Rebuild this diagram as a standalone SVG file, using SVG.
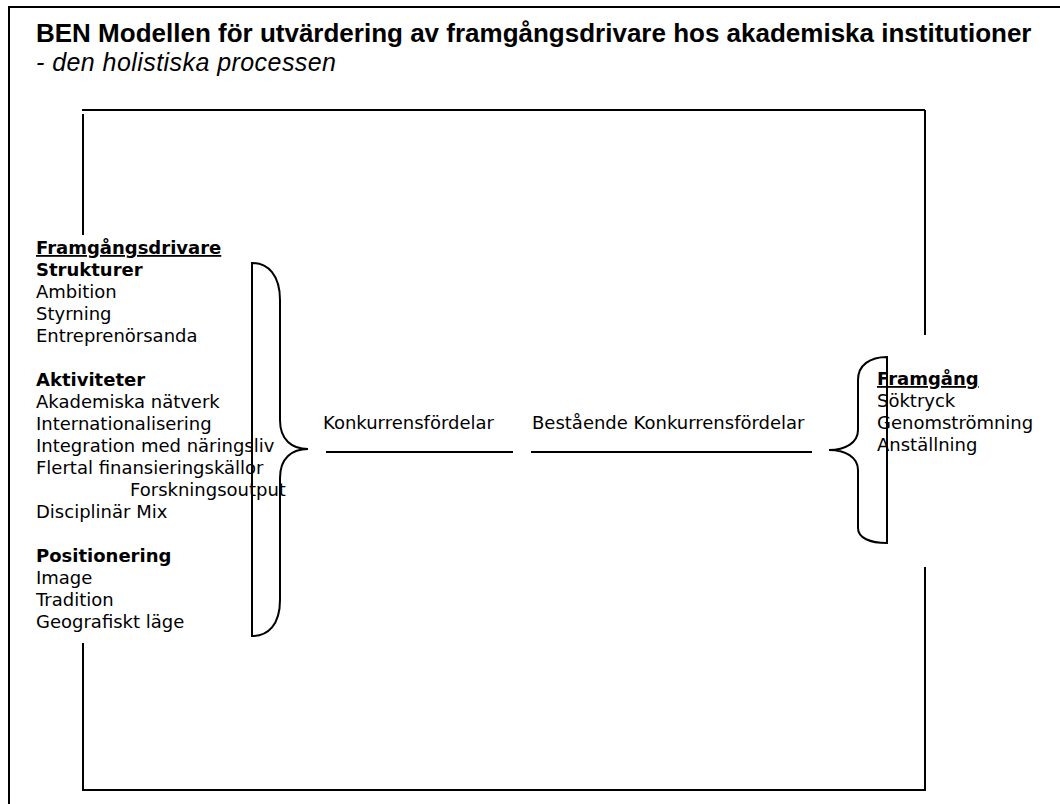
<svg xmlns="http://www.w3.org/2000/svg" width="1060" height="804" viewBox="0 0 1060 804">
<style>
.t{font-family:"DejaVu Sans",Verdana,sans-serif;font-size:18px;fill:#000}
.b{font-weight:bold}
.u{text-decoration:underline}
.ln{stroke:#000;stroke-width:2;fill:none}
.br{stroke:#000;stroke-width:2;fill:#fff}
</style>
<rect width="1060" height="804" fill="#fff"/>
<g id="frame">
<path class="ln" d="M9,804 V7 H1060" stroke-width="1.5"/>
</g>
<g id="title">
<text x="36" y="42" font-family="Liberation Sans,Arial,sans-serif" font-size="26" font-weight="bold">BEN Modellen för utvärdering av framgångsdrivare hos akademiska institutioner</text>
<text x="36" y="71" font-family="Liberation Sans,Arial,sans-serif" font-size="25" font-style="italic" textLength="300">- den holistiska processen</text>
</g>
<g id="connectors">
<path class="ln" d="M82,110 H925"/>
<path class="ln" d="M83,114 V235"/>
<path class="ln" d="M925,110 V335"/>
<path class="ln" d="M83,643 V790"/>
<path class="ln" d="M925,567 V790"/>
<path class="ln" d="M82,790 H926"/>
<path class="ln" d="M326,452 H513"/>
<path class="ln" d="M531,452 H812"/>
</g>
<g id="drivers">
<path class="br" d="M252,263 C268,263 280,275 280,300 L280,420 C280,440 292,449 308,449 C292,449 280,458 280,478 L280,600 C280,625 268,636 252,636 Z"/>
<text class="t b u" x="36" y="254">Framgångsdrivare</text>
<text class="t b" x="36" y="276">Strukturer</text>
<text class="t" x="36" y="298">Ambition</text>
<text class="t" x="36" y="320">Styrning</text>
<text class="t" x="36" y="342">Entreprenörsanda</text>
<text class="t b" x="36" y="386">Aktiviteter</text>
<text class="t" x="36" y="408">Akademiska nätverk</text>
<text class="t" x="36" y="430">Internationalisering</text>
<text class="t" x="36" y="452">Integration med näringsliv</text>
<text class="t" x="36" y="474">Flertal finansieringskällor</text>
<text class="t" x="130" y="496">Forskningsoutput</text>
<text class="t" x="36" y="518">Disciplinär Mix</text>
<text class="t b" x="36" y="562">Positionering</text>
<text class="t" x="36" y="584">Image</text>
<text class="t" x="36" y="606">Tradition</text>
<text class="t" x="36" y="628">Geografiskt läge</text>
</g>
<g id="konkurrens">
<text class="t" x="323" y="429">Konkurrensfördelar</text>
</g>
<g id="bestaende">
<text class="t" x="532" y="429">Bestående Konkurrensfördelar</text>
</g>
<g id="framgang">
<path class="br" d="M887,357 C870,357 858,365 858,380 L858,430 C858,443 845,450 829,450 C845,450 858,457 858,470 L858,528 C858,538 870,543 887,543 Z"/>
<text class="t b u" x="877" y="385">Framgång</text>
<text class="t" x="877" y="407">Söktryck</text>
<text class="t" x="877" y="429">Genomströmning</text>
<text class="t" x="877" y="451">Anställning</text>
</g>
</svg>
